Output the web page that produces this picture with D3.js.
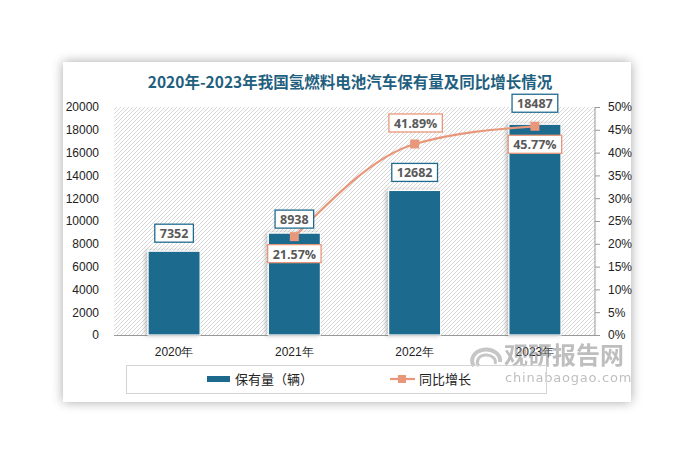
<!DOCTYPE html>
<html><head><meta charset="utf-8">
<script src="https://cdn.jsdelivr.net/npm/d3@7"></script>
<style>html,body{margin:0;padding:0;background:#fff;}svg{display:block;font-family:"Noto Sans CJK SC","Noto Sans",sans-serif;}</style>
</head><body>
<script>
const years = ["2020年","2021年","2022年","2023年"];
const stock = [7352, 8938, 12682, 18487];
const growth = [null, 21.57, 41.89, 45.77];
const leftTicks = [0,2000,4000,6000,8000,10000,12000,14000,16000,18000,20000];
const rightTicks = [0,5,10,15,20,25,30,35,40,45,50];
const title = "2020年-2023年我国氢燃料电池汽车保有量及同比增长情况";
const legendBar = "保有量（辆）";
const legendLine = "同比增长";

const W=698,H=464;
const svg=d3.select("body").append("svg").attr("width",W).attr("height",H);
const defs=svg.append("defs");
const sh=defs.append("filter").attr("id","cardsh").attr("x","-10%").attr("y","-10%").attr("width","120%").attr("height","120%");
sh.append("feGaussianBlur").attr("in","SourceAlpha").attr("stdDeviation",6);
sh.append("feOffset").attr("dx",0).attr("dy",0).attr("result","b");
sh.append("feComponentTransfer").append("feFuncA").attr("type","linear").attr("slope",0.35);
const m=sh.append("feMerge");m.append("feMergeNode");m.append("feMergeNode").attr("in","SourceGraphic");
const bs=defs.append("filter").attr("id","barsh").attr("x","-30%").attr("y","-10%").attr("width","160%").attr("height","120%");
bs.append("feDropShadow").attr("dx",-2).attr("dy",0).attr("stdDeviation",2).attr("flood-color","#000").attr("flood-opacity",0.25);
const pat=defs.append("pattern").attr("id","hatch").attr("patternUnits","userSpaceOnUse").attr("width",4).attr("height",4);
pat.append("path").attr("d","M-1,1 l2,-2 M0,4 l4,-4 M3,5 l2,-2").attr("stroke","#d4d4d4").attr("stroke-width",0.9);

svg.append("rect").attr("x",63).attr("y",62).attr("width",568).attr("height",340).attr("fill","#fff").attr("filter","url(#cardsh)");

const x=d3.scaleBand().domain(years).range([114,595]).paddingInner(0.567).paddingOuter(0.283);
const y=d3.scaleLinear().domain([0,20000]).range([335,107]);
const y2=d3.scaleLinear().domain([0,50]).range([335,107]);

svg.append("rect").attr("x",114).attr("y",107).attr("width",481).attr("height",228).attr("fill","url(#hatch)");

svg.append("text").attr("x",350).attr("y",88).attr("text-anchor","middle").attr("font-size",15.5).attr("font-weight","bold").attr("fill","#1f5f80").text(title);

// left axis
const la=svg.append("g").attr("transform","translate(114,0)").call(d3.axisLeft(y).tickValues(leftTicks).tickSize(0).tickPadding(15).tickFormat(d3.format("d")));
la.select(".domain").remove();
la.selectAll("text").attr("font-size",12).attr("fill","#222").attr("font-family","'Liberation Sans',Arial,sans-serif");
// right axis
const ra=svg.append("g").attr("transform","translate(595,0)").call(d3.axisRight(y2).tickValues(rightTicks).tickSize(5).tickPadding(8).tickFormat(d=>d+"%"));
ra.select(".domain").attr("stroke","#999").attr("d","M0,107V335");
ra.selectAll(".tick line").attr("stroke","#999");
ra.selectAll("text").attr("font-size",12).attr("fill","#222").attr("font-family","'Liberation Sans',Arial,sans-serif");
// x axis
svg.append("line").attr("x1",114).attr("x2",595).attr("y1",335.5).attr("y2",335.5).attr("stroke","#999");
const xa=svg.append("g").attr("transform","translate(0,335)").call(d3.axisBottom(x).tickSize(0).tickPadding(12));
xa.select(".domain").remove();
xa.selectAll("text").attr("font-size",12).attr("fill","#222");

// bars
svg.selectAll(".bar").data(stock).enter().append("rect")
  .attr("x",(d,i)=>x(years[i])).attr("width",x.bandwidth())
  .attr("y",d=>y(d)).attr("height",d=>y(0)-y(d))
  .attr("fill","#1d6a8e").attr("stroke","#fff").attr("stroke-width",1.2).attr("filter","url(#barsh)");

// line
const pts=growth.map((g,i)=>g==null?null:[x(years[i])+x.bandwidth()/2,y2(g)]).filter(p=>p);
svg.append("path").attr("d",d3.line().curve(d3.curveMonotoneX)(pts)).attr("fill","none").attr("stroke","#e8977a").attr("stroke-width",2.2);
svg.selectAll(".mk").data(pts).enter().append("rect").attr("x",d=>d[0]-4.5).attr("y",d=>d[1]-4.5).attr("width",9).attr("height",9).attr("fill","#e8977a");

function label(cx,cy,txt,stroke){
  const g=svg.append("g");
  const t=g.append("text").attr("x",cx).attr("y",cy+5).attr("text-anchor","middle").attr("font-size",12.5).attr("font-weight","bold").attr("fill","#595959").attr("font-family","'Open Sans','DejaVu Sans',sans-serif").text(txt);
  const bb=t.node().getBBox();
  g.insert("rect","text").attr("x",bb.x-5).attr("y",cy-9).attr("width",bb.width+10).attr("height",18).attr("fill","#fff").attr("stroke",stroke).attr("stroke-width",1.3);
}
const bOff=[-18,-14,-18,-21];
stock.forEach((v,i)=>{
  const cx=x(years[i])+x.bandwidth()/2;
  label(cx,y(v)+bOff[i],String(v),"#1f6b8e");
});
const pOff=[null,17,-21,18];
growth.forEach((g,i)=>{
  if(g==null)return;
  const cx=x(years[i])+x.bandwidth()/2;
  label(cx+(i==2?1:0),y2(g)+pOff[i],g.toFixed(2)+"%","#e8977a");
});

// watermark
const wm=svg.append("g").attr("opacity",0.55);
wm.append("path").attr("d","M474,366 a14,11 0 1,1 26,-4").attr("fill","none").attr("stroke","#999").attr("stroke-width",4);
wm.append("path").attr("d","M479,366 a9,7 0 1,1 16,-2").attr("fill","none").attr("stroke","#999").attr("stroke-width",3);
wm.append("text").attr("x",504).attr("y",364).attr("font-size",24).attr("font-weight","bold").attr("fill","#8a8a8a").text("观研报告网");
wm.append("text").attr("x",505).attr("y",382).attr("font-size",13).attr("fill","#8a8a8a").attr("letter-spacing",0.8).attr("font-family","'DejaVu Sans',sans-serif").text("chinabaogao.com");

// legend
svg.append("rect").attr("x",126.5).attr("y",365.5).attr("width",420).attr("height",28).attr("fill","none").attr("stroke","#d4d4d4");
svg.append("rect").attr("x",207).attr("y",376).attr("width",23).attr("height",6).attr("fill","#1d6a8e");
svg.append("text").attr("x",235).attr("y",384).attr("font-size",13).attr("fill","#222").text(legendBar);
svg.append("line").attr("x1",390).attr("x2",415).attr("y1",379).attr("y2",379).attr("stroke","#e8977a").attr("stroke-width",2.2);
svg.append("rect").attr("x",398).attr("y",375).attr("width",8).attr("height",8).attr("fill","#e8977a");
svg.append("text").attr("x",419).attr("y",384).attr("font-size",13).attr("fill","#222").text(legendLine);
</script>
</body></html>
